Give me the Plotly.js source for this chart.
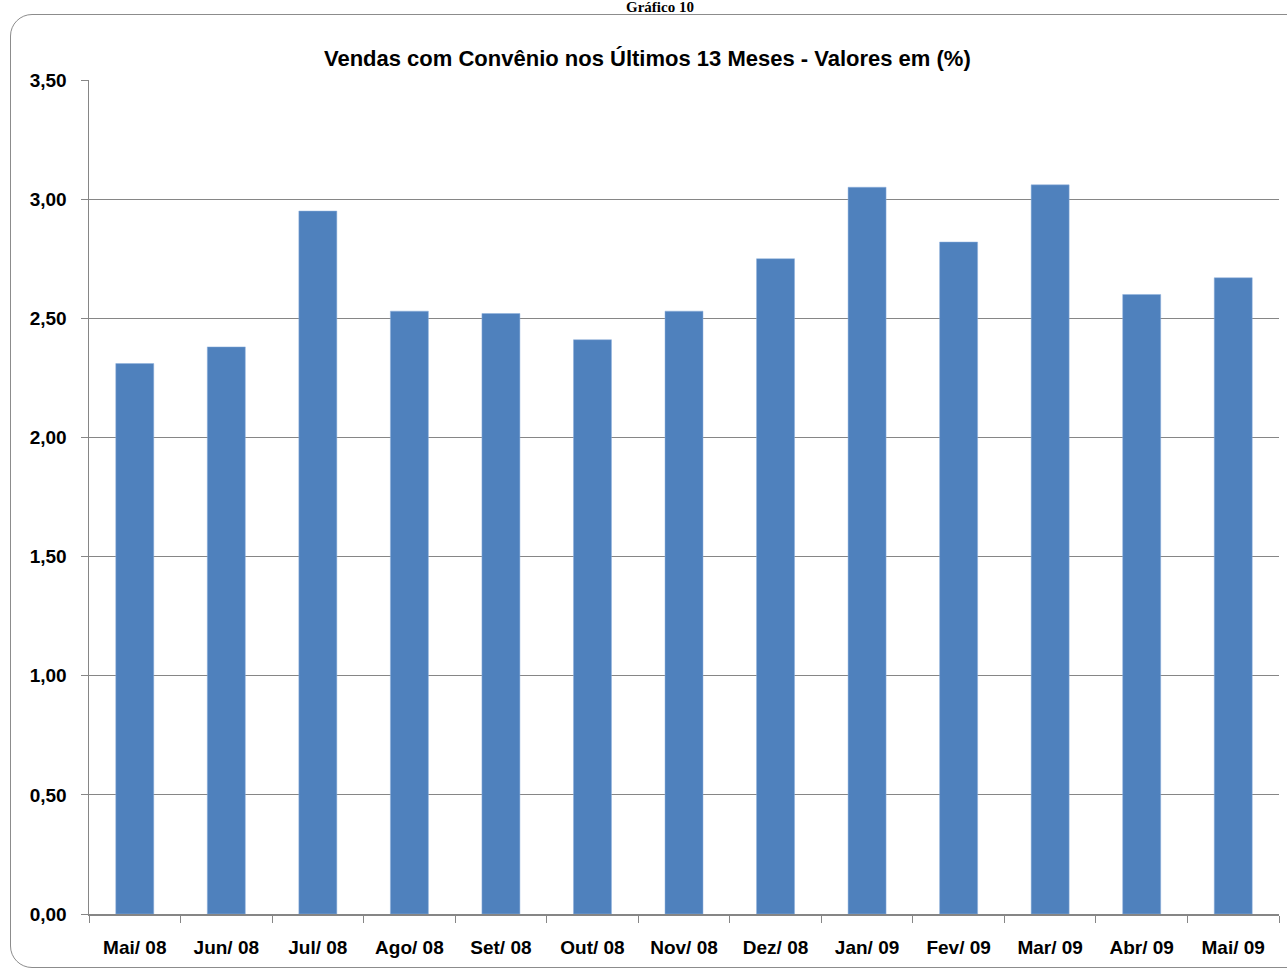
<!DOCTYPE html>
<html>
<head>
<meta charset="utf-8">
<script src="https://cdn.plot.ly/plotly-3.0.1.min.js"></script>
<style>
  html, body { margin: 0; padding: 0; background: #ffffff; }
  #frame { position: absolute; left: 10px; top: 14px; width: 1300px; height: 954px;
           border: 1.5px solid #8c8c8c; border-radius: 22px; box-sizing: border-box; }
  #chart { position: absolute; left: 0; top: 0; width: 1287px; height: 971px; }
</style>
</head>
<body>
<div id="frame"></div>
<div id="chart"></div>
<script>
const categories = ["Mai/ 08","Jun/ 08","Jul/ 08","Ago/ 08","Set/ 08","Out/ 08","Nov/ 08","Dez/ 08","Jan/ 09","Fev/ 09","Mar/ 09","Abr/ 09","Mai/ 09"];
const values = [2.31, 2.38, 2.95, 2.53, 2.52, 2.41, 2.53, 2.75, 3.05, 2.82, 3.06, 2.60, 2.67];
const yTicks = [0, 0.5, 1, 1.5, 2, 2.5, 3, 3.5];
const chartTitle = "Vendas com Convênio nos Últimos 13 Meses - Valores em (%)";
const topLabel = "Gráfico 10";

const trace = {
  type: "bar",
  x: categories,
  y: values,
  marker: { color: "#4f81bd", line: { color: "#8fb0dc", width: 0.5 } },
  hoverinfo: "x+y"
};

const layout = {
  width: 1287, height: 971,
  margin: { l: 89, r: 8, t: 80, b: 57 },
  paper_bgcolor: "rgba(0,0,0,0)",
  plot_bgcolor: "rgba(0,0,0,0)",
  separators: ",.",
  bargap: 0.585,
  showlegend: false,
  font: { family: "Liberation Sans, Arial, sans-serif", color: "#000000" },
  title: {
    text: "<b>" + chartTitle + "</b>",
    font: { size: 22, family: "Liberation Sans Narrow, Liberation Sans, Arial, sans-serif" },
    x: 0.503, xanchor: "center", y: 0.94, yanchor: "middle"
  },
  xaxis: {
    type: "category",
    tickson: "boundaries",
    ticks: "outside", ticklen: 7, tickcolor: "#868686", tickwidth: 1,
    showline: true, linecolor: "#868686", linewidth: 1.5,
    showgrid: false,
    tickfont: { size: 19, weight: "bold", family: "Liberation Sans, Arial, sans-serif" },
    ticklabelstandoff: 16
  },
  yaxis: {
    range: [0, 3.5],
    tickvals: yTicks,
    tickformat: ".2f",
    ticks: "outside", ticklen: 7, tickcolor: "#868686", tickwidth: 1,
    showline: true, linecolor: "#868686", linewidth: 1.5,
    showgrid: true, gridcolor: "#868686", gridwidth: 1,
    zeroline: false,
    tickfont: { size: 19, weight: "bold", family: "Liberation Sans, Arial, sans-serif" },
    ticklabelstandoff: 10
  },
  annotations: [{
    text: "<b>" + topLabel + "</b>",
    xref: "paper", yref: "paper", x: 0.48, y: 1, yshift: 73,
    xanchor: "center", yanchor: "middle",
    showarrow: false,
    font: { size: 15, family: "Liberation Serif, Times New Roman, serif", color: "#000000" }
  }]
};

Plotly.newPlot("chart", [trace], layout, { displayModeBar: false, staticPlot: true });
</script>
</body>
</html>
